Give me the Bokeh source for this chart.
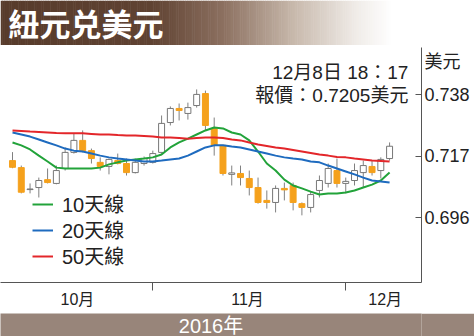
import numpy as np
from bokeh.plotting import figure
from bokeh.models import (FixedTicker, Legend, LegendItem, Label, Range1d)
from bokeh.layouts import column
from bokeh.embed import file_html
from bokeh.resources import INLINE

# ---------------- data ----------------
title_text = "紐元兑美元"
year_text = "2016年"
unit_text = "美元"
unit_pos = 0.7494
stamp_text = "12月8日 18：17"
quote_prefix = "報價："
month_labels = ["10月", "11月", "12月"]
month_label_pos = [7.4, 26.8, 42.5]
month_bounds = [16, 38]
y_ticks = [0.696, 0.717, 0.738]
legend_labels = ["10天線", "20天線", "50天線"]

open_ = [0.7156, 0.7132, 0.7057, 0.7064, 0.7091, 0.7078, 0.7129, 0.7184, 0.7225, 0.7190,
         0.7150, 0.7136, 0.7156, 0.7146, 0.7115, 0.7146, 0.7150, 0.7184, 0.7286, 0.7334,
         0.7317, 0.7344, 0.7385, 0.7266, 0.7208, 0.7109, 0.7112, 0.7095, 0.7064, 0.7020,
         0.7013, 0.7061, 0.7071, 0.7009, 0.6996, 0.7054, 0.7078, 0.7122, 0.7078, 0.7088,
         0.7115, 0.7136, 0.7122, 0.7163]
high = [0.7185, 0.7139, 0.7078, 0.7098, 0.7129, 0.7139, 0.7201, 0.7249, 0.7259, 0.7197,
        0.7167, 0.7163, 0.7180, 0.7163, 0.7163, 0.7170, 0.7190, 0.7310, 0.7341, 0.7351,
        0.7354, 0.7399, 0.7395, 0.7303, 0.7208, 0.7139, 0.7139, 0.7122, 0.7098, 0.7054,
        0.7071, 0.7081, 0.7081, 0.7013, 0.7050, 0.7105, 0.7146, 0.7163, 0.7098, 0.7146,
        0.7156, 0.7156, 0.7167, 0.7218]
low = [0.7130, 0.7044, 0.7044, 0.7030, 0.7078, 0.7075, 0.7122, 0.7180, 0.7184, 0.7146,
       0.7122, 0.7109, 0.7143, 0.7105, 0.7112, 0.7139, 0.7146, 0.7180, 0.7276, 0.7293,
       0.7296, 0.7337, 0.7259, 0.7173, 0.7105, 0.7071, 0.7071, 0.7037, 0.7009, 0.6992,
       0.6979, 0.7020, 0.6986, 0.6969, 0.6979, 0.7030, 0.7064, 0.7064, 0.7044, 0.7071,
       0.7064, 0.7105, 0.7095, 0.7156]
close = [0.7133, 0.7048, 0.7059, 0.7088, 0.7081, 0.7122, 0.7184, 0.7225, 0.7190, 0.7163,
         0.7136, 0.7160, 0.7146, 0.7115, 0.7150, 0.7163, 0.7180, 0.7283, 0.7334, 0.7327,
         0.7337, 0.7382, 0.7276, 0.7208, 0.7112, 0.7114, 0.7098, 0.7064, 0.7013, 0.7013,
         0.7061, 0.7056, 0.7013, 0.6996, 0.7040, 0.7088, 0.7129, 0.7078, 0.7085, 0.7122,
         0.7139, 0.7115, 0.7160, 0.7205]

ma10 = [0.7218, 0.7208, 0.7194, 0.7173, 0.7153, 0.7132, 0.7129, 0.7129, 0.7129, 0.7129,
        0.7132, 0.7143, 0.7150, 0.7156, 0.7160, 0.7163, 0.7167, 0.7177, 0.7201, 0.7218,
        0.7231, 0.7245, 0.7259, 0.7269, 0.7266, 0.7252, 0.7245, 0.7225, 0.7187, 0.7146,
        0.7122, 0.7091, 0.7071, 0.7061, 0.7050, 0.7040, 0.7044, 0.7044, 0.7047, 0.7054,
        0.7064, 0.7074, 0.7088, 0.7115]
ma20 = [0.7252, 0.7245, 0.7238, 0.7228, 0.7218, 0.7208, 0.7197, 0.7190, 0.7187, 0.7180,
        0.7173, 0.7167, 0.7163, 0.7160, 0.7156, 0.7153, 0.7153, 0.7156, 0.7160, 0.7163,
        0.7173, 0.7187, 0.7201, 0.7208, 0.7208, 0.7204, 0.7201, 0.7194, 0.7187, 0.7180,
        0.7173, 0.7167, 0.7163, 0.7160, 0.7153, 0.7150, 0.7139, 0.7129, 0.7119, 0.7109,
        0.7098, 0.7088, 0.7085, 0.7081]
ma50 = [0.7259, 0.7257, 0.7255, 0.7254, 0.7252, 0.7250, 0.7249, 0.7249, 0.7249, 0.7247,
        0.7245, 0.7245, 0.7243, 0.7242, 0.7242, 0.7240, 0.7238, 0.7235, 0.7235, 0.7233,
        0.7231, 0.7233, 0.7235, 0.7235, 0.7233, 0.7228, 0.7225, 0.7218, 0.7211, 0.7206,
        0.7201, 0.7197, 0.7192, 0.7187, 0.7182, 0.7177, 0.7173, 0.7168, 0.7167, 0.7163,
        0.7160, 0.7156, 0.7155, 0.7153]

# ---------------- style ----------------
FONT = "Liberation Sans, Noto Sans CJK TC"
CJK = "Noto Sans CJK TC"
ORANGE = "#f5a11c"
GREEN = "#22a33a"
BLUE = "#1e6bbf"
RED = "#e3262a"
AXIS = "#555555"
WICK = "#808080"
BAND = "#98857a"

# ---------------- title bar ----------------
t = figure(width=474, height=45, x_range=Range1d(0, 474), y_range=Range1d(0, 45),
           toolbar_location=None, output_backend="svg", min_border=0,
           x_axis_location=None, y_axis_location=None)
t.outline_line_color = None
t.grid.visible = False
edges = np.arange(0, 476, 2)
stops_x = [0, 170, 250, 330, 400, 440, 474]
stops_r = [88, 96, 140, 200, 240, 255, 255]
stops_g = [60, 67, 112, 185, 236, 255, 255]
stops_b = [44, 51, 96, 172, 232, 255, 255]
mid = (edges[:-1] + edges[1:]) / 2
cols = ["#%02x%02x%02x" % (int(np.interp(m, stops_x, stops_r)),
                           int(np.interp(m, stops_x, stops_g)),
                           int(np.interp(m, stops_x, stops_b))) for m in mid]
t.quad(left=edges[:-1], right=edges[1:] + 0.6, bottom=0, top=45,
       fill_color=cols, line_color=None)
t.add_layout(Label(x=9, y=23.5, text=title_text, text_font=CJK, text_font_style="bold",
                   text_font_size="31px", text_color="white", text_baseline="middle"))

# ---------------- main chart ----------------
p = figure(width=474, height=268, x_range=Range1d(-1.37, 46.64),
           y_range=Range1d(0.67397, 0.75422), y_axis_location="right",
           toolbar_location=None, output_backend="svg",
           min_border_left=0, min_border_right=53, min_border_top=2, min_border_bottom=31)
p.outline_line_color = None
p.grid.visible = False

idx = np.arange(len(close))
o = np.array(open_)
c = np.array(close)
up = c >= o
dn = ~up

p.segment(x0=idx, y0=low, x1=idx, y1=high, line_color=WICK, line_width=1)
p.vbar(x=idx[up], width=0.68, bottom=o[up], top=c[up],
       fill_color="white", line_color="#777777", line_width=1)
p.vbar(x=idx[dn], width=0.68, bottom=c[dn], top=o[dn],
       fill_color=ORANGE, line_color=ORANGE, line_width=1)

r10 = p.line(idx, ma10, line_color=GREEN, line_width=2)
r20 = p.line(idx, ma20, line_color=BLUE, line_width=2)
r50 = p.line(idx, ma50, line_color=RED, line_width=2)

# one legend block per row, so the row pitch matches the reference
for lab, rend, ypos in zip(legend_labels, [r10, r20, r50], [64, 38, 12]):
    lg = Legend(items=[LegendItem(label=lab, renderers=[rend])],
                location=(32, ypos), border_line_color=None, background_fill_alpha=0,
                padding=0, margin=0, spacing=0, label_height=22, glyph_height=22,
                glyph_width=21, label_standoff=9, label_text_font=FONT,
                label_text_font_size="20px", label_text_color="#222222")
    p.add_layout(lg)

xa = p.xaxis[0]
xa.ticker = FixedTicker(ticks=month_label_pos, minor_ticks=month_bounds)
xa.major_label_overrides = {pos: lab for pos, lab in zip(month_label_pos, month_labels)}
xa.axis_line_color = AXIS
xa.major_tick_line_color = None
xa.major_tick_out = 0
xa.major_tick_in = 0
xa.minor_tick_line_color = AXIS
xa.minor_tick_out = 8
xa.minor_tick_in = 0
xa.major_label_standoff = 0
xa.major_label_text_font = FONT
xa.major_label_text_font_size = "16px"
xa.major_label_text_color = "#222222"

# right axis: value ticks drawn as minor ticks, labels (incl. unit) on major ticks
ya = p.yaxis[0]
ya.ticker = FixedTicker(ticks=y_ticks + [unit_pos], minor_ticks=y_ticks)
overrides = {v: "%.3f" % v for v in y_ticks}
overrides[unit_pos] = unit_text
ya.major_label_overrides = overrides
ya.axis_line_color = AXIS
ya.major_tick_line_color = None
ya.major_tick_in = 0
ya.major_tick_out = 0
ya.minor_tick_line_color = AXIS
ya.minor_tick_in = 6
ya.minor_tick_out = 0
ya.major_label_standoff = 3
ya.major_label_text_font = FONT
ya.major_label_text_font_size = "18px"
ya.major_label_text_color = "#222222"

p.add_layout(Label(x=45.15, y=0.74569, text=stamp_text, text_font=FONT,
                   text_font_size="19px", text_color="#222222", text_align="right",
                   text_baseline="middle"))
p.add_layout(Label(x=45.15, y=0.73783, text=f"{quote_prefix}{close[-1]:.4f}{unit_text}",
                   text_font=FONT, text_font_size="19px", text_color="#222222",
                   text_align="right", text_baseline="middle"))

# ---------------- bottom band ----------------
b = figure(width=474, height=23, x_range=Range1d(0, 474), y_range=Range1d(0, 23),
           toolbar_location=None, output_backend="svg", min_border=0,
           x_axis_location=None, y_axis_location=None)
b.outline_line_color = None
b.grid.visible = False
b.background_fill_color = BAND
b.border_fill_color = BAND
b.add_layout(Label(x=237, y=11, text=year_text, text_font=FONT, text_font_size="20px",
                   text_color="white", text_align="center", text_baseline="middle"))

layout = column(t, p, b, spacing=0)
open("out.html", "w").write(file_html(layout, INLINE))
